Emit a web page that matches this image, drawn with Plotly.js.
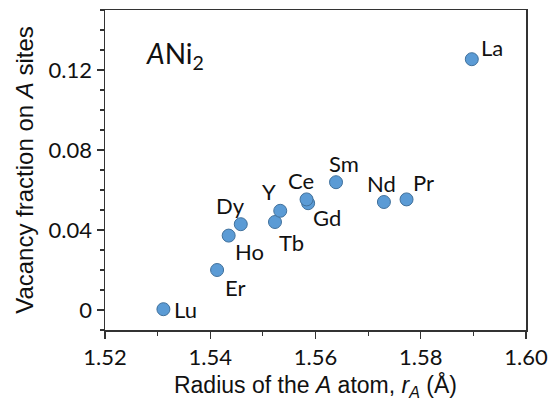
<!DOCTYPE html>
<html>
<head>
<meta charset="utf-8">
<script src="https://cdn.plot.ly/plotly-3.0.1.min.js"></script>
<style>html,body{margin:0;padding:0;background:#fff;}#chart{width:553px;height:406px;}</style>
</head>
<body>
<div id="chart"></div>
<script>
// Data
const elements = ["Lu", "Er", "Ho", "Dy", "Tb", "Y", "Gd", "Ce", "Sm", "Nd", "Pr", "La"];
const radius = [1.5311, 1.5413, 1.5435, 1.5458, 1.5523, 1.5533, 1.5586, 1.5583, 1.5639, 1.5730, 1.5773, 1.5897];
const vacancy = [0.0004, 0.0200, 0.0372, 0.0429, 0.0440, 0.0496, 0.0534, 0.0553, 0.0639, 0.0540, 0.0553, 0.1254];
const xTickVals = [1.52, 1.54, 1.56, 1.58, 1.60];
const xTickText = ["1.52", "1.54", "1.56", "1.58", "1.60"];
const yTickVals = [0, 0.04, 0.08, 0.12];
const yTickText = ["0", "0.04", "0.08", "0.12"];

// Label offsets in pixels (style, not data)
const labelDx = [22, 18, 21, -10, 17, -11, 19, -6, 8, -2, 17, 20];
const labelDy = [0, 17, 16, -19, 20, -19, 14, -19, -19, -19, -17, -12];

const labelFont = {family: "Lato, 'Open Sans', sans-serif", size: 22, color: "#111"};
const annotations = elements.map((el, i) => ({
  x: radius[i], y: vacancy[i], xref: "x", yref: "y",
  text: el, showarrow: false,
  xshift: labelDx[i], yshift: -labelDy[i],
  font: labelFont
}));
annotations.push({
  xref: "paper", yref: "paper", x: 0.093, y: 0.86,
  xanchor: "left", yanchor: "middle",
  text: "<i>A</i>Ni<sub>2</sub>", showarrow: false,
  font: {family: "Lato, 'Open Sans', sans-serif", size: 28, color: "#111"}
});

const axisCommon = {
  showline: true, mirror: true, linecolor: "#333", linewidth: 1.5,
  ticks: "outside", ticklen: 7, tickwidth: 1.3, tickcolor: "#333",
  showgrid: false, zeroline: false,
  tickfont: {family: "Lato, 'Open Sans', sans-serif", size: 22, color: "#111"},
  automargin: false
};

const trace = {
  x: radius, y: vacancy, type: "scatter", mode: "markers",
  marker: {size: 13, color: "#5B9BD5", line: {color: "#41719C", width: 1}},
  hoverinfo: "skip"
};

const layout = {
  width: 553, height: 406,
  margin: {l: 105, r: 27, t: 10, b: 76},
  paper_bgcolor: "#fff", plot_bgcolor: "#fff",
  showlegend: false,
  xaxis: Object.assign({}, axisCommon, {
    range: [1.52, 1.60],
    tickvals: xTickVals, ticktext: xTickText,
    minor: {dtick: 0.01, tick0: 1.52, ticks: "outside", ticklen: 4, tickcolor: "#333", tickwidth: 1.2, showgrid: false},
    title: {text: "Radius of the <i>A</i> atom, <i>r</i><sub><i>A</i></sub> (Å)", standoff: 8,
            font: {family: "'Liberation Sans', Arial, sans-serif", size: 23, color: "#111"}}
  }),
  yaxis: Object.assign({}, axisCommon, {
    range: [-0.01, 0.15],
    tickvals: yTickVals, ticktext: yTickText,
    minor: {dtick: 0.01, tick0: 0, ticks: "outside", ticklen: 4, tickcolor: "#333", tickwidth: 1.2, showgrid: false},
    title: {text: "Vacancy fraction on <i>A</i> sites", standoff: 8,
            font: {family: "'Liberation Sans', Arial, sans-serif", size: 24, color: "#111"}}
  }),
  annotations: annotations
};

Plotly.newPlot("chart", [trace], layout, {displayModeBar: false, staticPlot: true});
</script>
</body>
</html>
